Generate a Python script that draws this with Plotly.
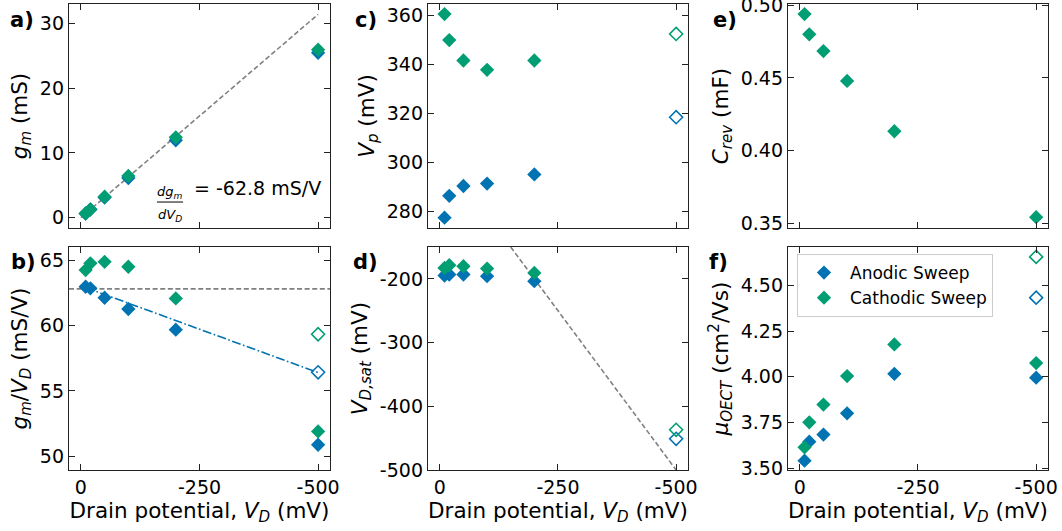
import plotly.graph_objects as go
from plotly.subplots import make_subplots

# ---- data -------------------------------------------------------------
VD = [-10, -20, -50, -100, -200, -500]          # drain potential (mV)
VD_SWEPT = [-10, -20, -50, -100, -200]
VD_END = [-500]

# a) transconductance (mS)
gm_anodic = [0.63, 1.26, 3.11, 6.12, 11.94, 25.45]
gm_cathodic = [0.64, 1.29, 3.24, 6.44, 12.40, 25.95]
gm_fit_x = [0, -500]
gm_fit_y = [0, 31.4]
gm_slope_text = "-62.8 mS/V"

# b) gm / VD (mS/V)
ratio_anodic = [62.96, 62.84, 62.12, 61.26, 59.68, 50.88]
ratio_cathodic = [64.24, 64.75, 64.87, 64.49, 62.07, 51.90]
ratio_anodic_extrap = [56.42]
ratio_cathodic_extrap = [59.33]
ratio_ref = 62.8
ratio_trend_x = [-10, -500]
ratio_trend_y = [62.9, 56.4]

# c) pinch-off potential (mV)
vp_anodic = [277.5, 286.4, 290.4, 291.4, 295.1]
vp_cathodic = [360.4, 349.8, 341.5, 337.7, 341.5]
vp_anodic_extrap = [318.4]
vp_cathodic_extrap = [352.3]

# d) saturation drain potential (mV)
vsat_anodic = [-194.7, -193.1, -193.1, -195.8, -203.6]
vsat_cathodic = [-182.8, -178.6, -180.2, -183.8, -190.6]
vsat_anodic_extrap = [-451.0]
vsat_cathodic_extrap = [-436.9]
vsat_ref_x = [-150, -500]
vsat_ref_y = [-150, -500]

# e) reversible capacitance (mF)
crev = [0.4938, 0.4799, 0.4684, 0.4479, 0.4134, 0.3544]

# f) OECT mobility (cm2/Vs)
mu_anodic = [3.541, 3.645, 3.684, 3.800, 4.016, 3.995]
mu_cathodic = [3.614, 3.751, 3.848, 4.004, 4.177, 4.075]
mu_anodic_extrap = [4.433]
mu_cathodic_extrap = [4.656]

# ---- style ------------------------------------------------------------
BLUE = "#0173B2"
GREEN = "#029E73"
GRAY = "#808080"
FONT = "DejaVu Sans"
TICK_SIZE = 19
TITLE_SIZE = 21.5
MSIZE = 11
DASH = "5px,2.6px"

fig = make_subplots(rows=2, cols=3)
# subplot (row, col):  a=1,1  c=1,2  e=1,3  b=2,1  d=2,2  f=2,3


def filled(x, y, color, row, col, name=None, legend=False):
    fig.add_trace(go.Scatter(
        x=x, y=y, mode="markers", name=name, showlegend=legend,
        marker=dict(symbol="diamond", size=MSIZE, color=color, line=dict(width=0)),
    ), row=row, col=col)


def hollow(x, y, color, row, col):
    fig.add_trace(go.Scatter(
        x=x, y=y, mode="markers", showlegend=False,
        marker=dict(symbol="diamond-open", size=MSIZE - 1, color=color,
                    line=dict(width=1.6, color=color)),
    ), row=row, col=col)


def guide(x, y, color, dash, row, col):
    fig.add_trace(go.Scatter(
        x=x, y=y, mode="lines", showlegend=False,
        line=dict(color=color, width=1.6, dash=dash),
    ), row=row, col=col)


# a) gm
guide(gm_fit_x, gm_fit_y, GRAY, DASH, 1, 1)
filled(VD, gm_anodic, BLUE, 1, 1)
filled(VD, gm_cathodic, GREEN, 1, 1)

# b) gm/VD
guide(ratio_trend_x, ratio_trend_y, BLUE, "9px,2.5px,1.6px,2.5px", 2, 1)
filled(VD, ratio_anodic, BLUE, 2, 1)
filled(VD, ratio_cathodic, GREEN, 2, 1)
hollow(VD_END, ratio_anodic_extrap, BLUE, 2, 1)
hollow(VD_END, ratio_cathodic_extrap, GREEN, 2, 1)
fig.add_shape(type="line", xref="x4 domain", yref="y4", x0=0, x1=1,
              y0=ratio_ref, y1=ratio_ref, layer="below",
              line=dict(color=GRAY, width=1.6, dash=DASH))

# c) Vp
filled(VD_SWEPT, vp_anodic, BLUE, 1, 2)
filled(VD_SWEPT, vp_cathodic, GREEN, 1, 2)
hollow(VD_END, vp_anodic_extrap, BLUE, 1, 2)
hollow(VD_END, vp_cathodic_extrap, GREEN, 1, 2)

# d) VD,sat
guide(vsat_ref_x, vsat_ref_y, GRAY, DASH, 2, 2)
filled(VD_SWEPT, vsat_anodic, BLUE, 2, 2)
filled(VD_SWEPT, vsat_cathodic, GREEN, 2, 2)
hollow(VD_END, vsat_anodic_extrap, BLUE, 2, 2)
hollow(VD_END, vsat_cathodic_extrap, GREEN, 2, 2)

# e) Crev
filled(VD, crev, GREEN, 1, 3)

# f) mobility
filled(VD, mu_anodic, BLUE, 2, 3, name="Anodic Sweep", legend=True)
filled(VD, mu_cathodic, GREEN, 2, 3, name="Cathodic Sweep", legend=True)
hollow(VD_END, mu_anodic_extrap, BLUE, 2, 3)
hollow(VD_END, mu_cathodic_extrap, GREEN, 2, 3)

# ---- axes -------------------------------------------------------------
col_dom = [[0.0650, 0.3107], [0.4030, 0.6478], [0.7420, 0.9868]]
row_dom = {1: [0.5706, 0.9925], 2: [0.1149, 0.5348]}

common = dict(
    showline=True, linecolor="#222222", linewidth=1.4, mirror="ticks",
    ticks="inside", ticklen=6, tickwidth=1.2, tickcolor="#222222",
    showgrid=False, zeroline=False, ticklabeloverflow="allow", automargin=False,
    tickfont=dict(family=FONT, size=TICK_SIZE, color="black"),
)

x_ticks = [0, -250, -500]
x_title = "Drain potential, <i>V<sub>D</sub></i> (mV)"

y_specs = {
    (1, 1): ([-1.6, 33.0], [0, 10, 20, 30], ["0", "10", "20", "30"],
             "<i>g<sub>m</sub></i> (mS)"),
    (2, 1): ([48.95, 66.0], [50, 55, 60, 65], ["50", "55", "60", "65"],
             "<i>g<sub>m</sub></i>/<i>V<sub>D</sub></i> (mS/V)"),
    (1, 2): ([273.3, 364.5], [280, 300, 320, 340, 360], ["280", "300", "320", "340", "360"],
             "<i>V<sub>p</sub></i> (mV)"),
    (2, 2): ([-500, -150], [-500, -400, -300, -200], ["-500", "-400", "-300", "-200"],
             "<i>V<sub>D,sat</sub></i> (mV)"),
    (1, 3): ([0.347, 0.5007], [0.35, 0.40, 0.45, 0.50], ["0.35", "0.40", "0.45", "0.50"],
             "<i>C<sub>rev</sub></i> (mF)"),
    (2, 3): ([3.49, 4.71], [3.50, 3.75, 4.00, 4.25, 4.50], ["3.50", "3.75", "4.00", "4.25", "4.50"],
             "<i>μ<sub>OECT</sub></i> (cm<sup>2</sup>/Vs)"),
}

for (r, c), (yr, yt, ytt, ytitle) in y_specs.items():
    fig.update_xaxes(
        domain=col_dom[c - 1], range=[25, -525],
        tickvals=x_ticks, ticktext=["0", "-250", "-500"],
        showticklabels=(r == 2),
        title=dict(text=x_title if r == 2 else "", standoff=0,
                   font=dict(family=FONT, size=TITLE_SIZE, color="black")),
        **common, row=r, col=c,
    )
    fig.update_yaxes(
        domain=row_dom[r], range=yr, tickvals=yt, ticktext=ytt,
        title=dict(text=ytitle, standoff=6,
                   font=dict(family=FONT, size=TITLE_SIZE, color="black")),
        **common, row=r, col=c,
    )

# ---- panel letters ----------------------------------------------------
letters = [("a)", 8, 6), ("c)", 353, 6), ("e)", 711, 6),
           ("b)", 9, 248), ("d)", 351, 248), ("f)", 707, 248)]
for txt, px, py in letters:
    fig.add_annotation(
        text=f"<b>{txt}</b>", xref="paper", yref="paper",
        x=px / 1062, y=1 - py / 531, xanchor="left", yanchor="top",
        showarrow=False, font=dict(family=FONT, size=21, color="black"),
    )

# ---- slope label in panel a ------------------------------------------
frac_font = dict(family=FONT, size=13, color="black")
fig.add_annotation(text="<i>dg<sub>m</sub></i>", xref="x domain", yref="y domain",
                   x=0.387, y=0.112, yanchor="bottom", showarrow=False, font=frac_font)
fig.add_annotation(text="<i>dV<sub>D</sub></i>", xref="x domain", yref="y domain",
                   x=0.387, y=0.104, yanchor="top", showarrow=False, font=frac_font)
fig.add_shape(type="line", xref="x domain", yref="y domain",
              x0=0.337, x1=0.437, y0=0.116, y1=0.116,
              line=dict(color="black", width=1))
fig.add_annotation(text="= " + gm_slope_text, xref="x domain", yref="y domain",
                   x=0.47, y=0.12, xanchor="left", showarrow=False,
                   font=dict(family=FONT, size=19, color="black"))

fig.update_layout(
    width=1062, height=531,
    margin=dict(l=0, r=0, t=0, b=0),
    paper_bgcolor="white", plot_bgcolor="white",
    font=dict(family=FONT, color="black"),
    legend=dict(
        x=797 / 1062, y=1 - 254 / 531, xanchor="left", yanchor="top",
        bgcolor="rgba(255,255,255,0.85)", bordercolor="#cccccc", borderwidth=1,
        itemwidth=42,
        font=dict(family=FONT, size=17, color="black"),
    ),
)

fig.write_html("out.html")
